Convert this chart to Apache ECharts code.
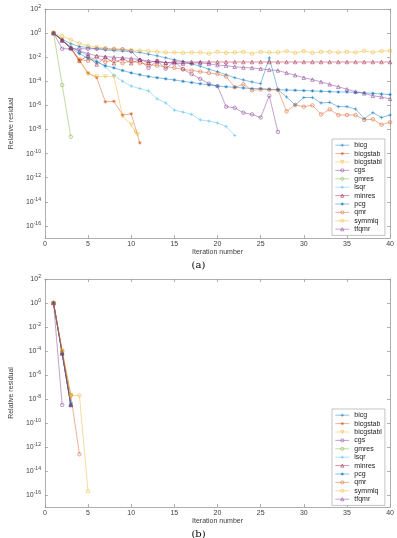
<!DOCTYPE html>
<html>
<head>
<meta charset="utf-8">
<script src="https://cdn.jsdelivr.net/npm/echarts@6/dist/echarts.min.js"></script>
<style>
html, body { margin: 0; padding: 0; background: #fff; }
#chart { width: 397px; height: 538px; }
</style>
</head>
<body>
<div id="chart"></div>
<script>
var methods = ['bicg', 'bicgstab', 'bicgstabl', 'cgs', 'gmres', 'lsqr', 'minres', 'pcg', 'qmr', 'symmlq', 'tfqmr'];
var yTickExps = [-16, -14, -12, -10, -8, -6, -4, -2, 0, 2];
var iters = [1, 2, 3, 4, 5, 6, 7, 8, 9, 10, 11, 12, 13, 14, 15, 16, 17, 18, 19, 20,
    21, 22, 23, 24, 25, 26, 27, 28, 29, 30, 31, 32, 33, 34, 35, 36, 37, 38, 39, 40];
var bicgstablItA = [1, 2, 3, 4, 5, 6, 7, 8, 9, 10, 10.5, 10.75];

// (a) relative residuals
var bicgA = [1, 0.32, 0.13, 0.079, 0.063, 0.05, 0.04, 0.035, 0.032, 0.028, 0.025, 0.018, 0.013, 8.9e-3, 6.3e-3,
    4.5e-3, 2.8e-3, 1.8e-3, 1.0e-3, 6.3e-4, 3.5e-4, 2.0e-4, 1.3e-4, 8.9e-5, 6.3e-5, 8.9e-3, 2.0e-5, 5.0e-6,
    1.1e-6, 4.5e-6, 4.5e-6, 1.6e-6, 1.8e-6, 7.9e-7, 7.9e-7, 5.0e-7, 7.9e-8, 2.5e-7, 1.0e-7, 1.6e-7];
var bicgstabA = [1, 0.25, 0.056, 5.6e-3, 5.0e-4, 2.0e-4, 2.0e-6, 2.2e-6, 1.6e-7, 2.0e-7, 7.9e-10];
var bicgstablA = [1, 0.25, 0.056, 5.0e-3, 4.0e-4, 2.5e-4, 2.5e-4, 2.5e-4, 1.3e-7, 2.5e-8, 6.3e-9, 4.0e-9];
var cgsA = [1, 0.05, 0.05, 0.05, 0.05, 0.05, 0.05, 0.045, 0.045, 0.032, 5.6e-3, 1.3e-3, 5.0e-3, 1.1e-3, 4.5e-3,
    1.0e-3, 4.0e-4, 1.6e-4, 6.3e-5, 4.0e-5, 7.9e-7, 6.3e-7, 2.5e-7, 1.8e-7, 1.0e-7, 6.3e-6, 6.3e-9];
var gmresA = [1, 5.0e-5, 2.5e-9];
var lsqrA = [1, 0.25, 0.079, 0.032, 0.013, 5.0e-3, 1.6e-3, 3.2e-4, 1.0e-4, 4.0e-5, 2.5e-5, 1.6e-5, 3.5e-6,
    1.6e-6, 4.0e-7, 2.8e-7, 1.8e-7, 6.3e-8, 5.0e-8, 3.5e-8, 1.8e-8, 3.2e-9];
var minresA = [1, 0.25, 0.056, 5.0e-3, 0.013, 2.5e-3, 0.01, 3.2e-3, 7.9e-3, 3.2e-3, 6.3e-3, 3.5e-3, 5.0e-3, 3.5e-3,
    4.0e-3, 4.0e-3, 4.0e-3, 4.0e-3, 4.0e-3, 4.0e-3, 4.0e-3, 4.0e-3, 4.0e-3, 4.0e-3, 4.0e-3, 4.0e-3, 4.0e-3,
    4.0e-3, 4.0e-3, 4.0e-3, 4.0e-3, 4.0e-3, 4.0e-3, 4.0e-3, 4.0e-3, 4.0e-3, 4.0e-3, 4.0e-3, 4.0e-3, 4.0e-3];
var pcgA = [1, 0.25, 0.056, 0.02, 7.9e-3, 4.0e-3, 2.0e-3, 1.3e-3, 7.9e-4, 5.0e-4, 3.5e-4, 2.5e-4, 2.0e-4, 1.6e-4,
    1.3e-4, 1.0e-4, 7.9e-5, 6.3e-5, 5.0e-5, 4.0e-5, 3.5e-5, 3.2e-5, 2.8e-5, 2.5e-5, 2.5e-5, 2.2e-5, 2.0e-5,
    1.9e-5, 1.8e-5, 1.7e-5, 1.6e-5, 1.5e-5, 1.4e-5, 1.3e-5, 1.3e-5, 1.2e-5, 1.1e-5, 1.0e-5, 8.9e-6, 7.9e-6];
var qmrA = [1, 0.25, 0.056, 6.3e-3, 5.0e-3, 0.01, 4.0e-3, 6.3e-3, 3.2e-3, 5.0e-3, 3.2e-3, 2.5e-3, 2.0e-3, 1.6e-3,
    1.3e-3, 1.0e-3, 7.9e-4, 6.3e-4, 5.0e-4, 4.0e-4, 2.5e-4, 3.2e-5, 5.6e-5, 1.8e-5, 2.1e-5, 2.0e-5, 2.0e-5,
    3.2e-7, 1.1e-6, 7.9e-7, 1.0e-6, 1.8e-7, 4.7e-7, 1.6e-7, 1.6e-7, 1.6e-7, 6.3e-8, 7.1e-8, 2.5e-8, 4.0e-8];
var symmlqA = [1, 0.56, 0.28, 0.14, 0.089, 0.071, 0.056, 0.05, 0.045, 0.04, 0.035, 0.032, 0.028, 0.025, 0.025,
    0.023, 0.025, 0.025, 0.020, 0.028, 0.023, 0.025, 0.028, 0.020, 0.028, 0.025, 0.025, 0.032, 0.023, 0.032,
    0.023, 0.028, 0.028, 0.025, 0.028, 0.025, 0.034, 0.025, 0.032, 0.034];
var tfqmrA = [1, 0.25, 0.063, 0.032, 0.02, 0.013, 0.011, 0.01, 8.9e-3, 7.9e-3, 6.3e-3, 5.0e-3, 4.0e-3, 3.5e-3,
    3.2e-3, 2.8e-3, 3.2e-3, 3.5e-3, 2.8e-3, 2.2e-3, 2.0e-3, 1.6e-3, 1.4e-3, 1.3e-3, 1.1e-3, 8.9e-4, 7.9e-4,
    5.0e-4, 3.2e-4, 2.0e-4, 1.4e-4, 8.9e-5, 5.6e-5, 3.5e-5, 2.2e-5, 1.4e-5, 1.0e-5, 6.3e-6, 5.0e-6, 3.5e-6];

// (b) relative residuals
var bicgB = [1, 6.3e-5, 5.0e-9];
var bicgstabB = [1, 6.3e-5, 3.2e-9];
var bicgstablB = [1, 1.0e-4, 2.0e-8];
var cgsB = [1, 3.2e-9];
var gmresB = [1, 6.3e-5, 3.2e-9];
var lsqrB = [1, 6.3e-5, 4.0e-9];
var minresB = [1, 6.3e-5, 3.2e-9];
var pcgB = [1, 6.3e-5, 3.2e-9];
var qmrB = [1, 1.0e-4, 2.0e-8, 2.5e-13];
var symmlqB = [1, 1.0e-4, 2.0e-8, 2.0e-8, 2.0e-16];
var tfqmrB = [1, 6.3e-5, 3.2e-9];

var colors = ['#0072BD', '#D95319', '#EDB120', '#7E2F8E', '#77AC30', '#4DBEEE', '#A2142F',
    '#0072BD', '#D95319', '#EDB120', '#7E2F8E'];
var PLUS = 'path://M5,0L5,10M0,5L10,5';
var STAR = 'path://M5,0L5,10M0,5L10,5M1.5,1.5L8.5,8.5M1.5,8.5L8.5,1.5';
var TRIDOWN = 'path://M0,0L10,0L5,9Z';
var markers = [PLUS, STAR, TRIDOWN, 'circle', 'circle', PLUS, 'triangle', STAR, 'circle', 'circle', 'triangle'];

var seriesA = [bicgA, bicgstabA, bicgstablA, cgsA, gmresA, lsqrA, minresA, pcgA, qmrA, symmlqA, tfqmrA];
var seriesB = [bicgB, bicgstabB, bicgstablB, cgsB, gmresB, lsqrB, minresB, pcgB, qmrB, symmlqB, tfqmrB];

var FONT = 'Liberation Sans';
var AXIS_COLOR = '#9a9a9a';
var LABEL_COLOR = '#404040';

function makeSeries(idx, xs, ys, g) {
    return {
        name: methods[idx],
        type: 'line',
        xAxisIndex: g * 2,
        yAxisIndex: g * 2,
        data: ys.map(function (r, i) { return [xs[i], Math.log10(r)]; }),
        symbol: markers[idx],
        symbolSize: 3.5,
        showSymbol: true,
        lineStyle: { width: 0.6, color: colors[idx], opacity: 0.75 },
        itemStyle: { color: 'rgba(255,255,255,0)', borderColor: colors[idx], borderWidth: 0.6, opacity: 0.85 },
        emphasis: { disabled: true }
    };
}

function xAxes(g) {
    var line = { show: true, onZero: false, lineStyle: { color: AXIS_COLOR, width: 0.8 } };
    var tick = { show: true, inside: true, length: 3, lineStyle: { color: AXIS_COLOR, width: 0.8 } };
    return [{
        type: 'value', gridIndex: g, min: 0, max: 40, interval: 5, position: 'bottom',
        name: 'Iteration number', nameLocation: 'middle', nameGap: 11,
        nameTextStyle: { fontSize: 7, color: LABEL_COLOR, fontFamily: FONT },
        axisLine: line, axisTick: tick,
        axisLabel: { fontSize: 7, color: LABEL_COLOR, margin: 3, fontFamily: FONT },
        splitLine: { show: false }
    }, {
        type: 'value', gridIndex: g, min: 0, max: 40, interval: 5, position: 'top',
        axisLine: line, axisTick: tick, axisLabel: { show: false }, splitLine: { show: false }
    }];
}

function yAxes(g) {
    var line = { show: true, onZero: false, lineStyle: { color: AXIS_COLOR, width: 0.8 } };
    var tick = { show: true, inside: true, length: 3, customValues: yTickExps,
        lineStyle: { color: AXIS_COLOR, width: 0.8 } };
    return [{
        type: 'value', gridIndex: g, min: -17, max: 2, position: 'left',
        name: 'Relative residual', nameLocation: 'middle', nameGap: 20,
        nameTextStyle: { fontSize: 7, color: LABEL_COLOR, fontFamily: FONT },
        axisLine: line, axisTick: tick,
        axisLabel: {
            customValues: yTickExps, fontSize: 7, color: LABEL_COLOR, margin: 4, fontFamily: FONT,
            formatter: function (v) { return '10{e|' + v + '}'; },
            rich: { e: { fontSize: 5, color: LABEL_COLOR, fontFamily: FONT, padding: [0, 0, 4, 0] } }
        },
        splitLine: { show: false }
    }, {
        type: 'value', gridIndex: g, min: -17, max: 2, position: 'right',
        axisLine: line, axisTick: tick, axisLabel: { show: false }, splitLine: { show: false }
    }];
}

function legendAt(top) {
    return {
        orient: 'vertical', left: 332, top: top, data: methods,
        itemWidth: 14, itemHeight: 4, itemGap: 0,
        padding: [2, 3, 2, 3],
        backgroundColor: '#fff', borderColor: AXIS_COLOR, borderWidth: 0.6, borderRadius: 0,
        selectedMode: false,
        itemStyle: { color: 'rgba(255,255,255,0)', borderColor: 'inherit', borderWidth: 0.6 },
        lineStyle: { width: 0.6 },
        textStyle: { fontSize: 7, lineHeight: 8.4, color: '#222', fontFamily: FONT }
    };
}

var series = [];
seriesA.forEach(function (ys, i) {
    series.push(makeSeries(i, i === 2 ? bicgstablItA : iters, ys, 0));
});
seriesB.forEach(function (ys, i) {
    series.push(makeSeries(i, iters, ys, 1));
});

var myChart = echarts.init(document.getElementById('chart'), null, { renderer: 'canvas' });
myChart.setOption({
    animation: false,
    backgroundColor: '#fff',
    title: [
        { text: '(a)', left: 'center', top: 260, padding: 0,
          textStyle: { fontFamily: 'DejaVu Serif', fontSize: 10, fontWeight: 'normal', color: '#000' } },
        { text: '(b)', left: 'center', top: 529, padding: 0,
          textStyle: { fontFamily: 'DejaVu Serif', fontSize: 10, fontWeight: 'normal', color: '#000' } }
    ],
    grid: [
        { left: 32, right: 6, top: 9, height: 229 },
        { left: 32, right: 6, top: 279, height: 228 }
    ],
    xAxis: xAxes(0).concat(xAxes(1)),
    yAxis: yAxes(0).concat(yAxes(1)),
    legend: [legendAt(139), legendAt(409)],
    series: series
});
</script>
</body>
</html>
